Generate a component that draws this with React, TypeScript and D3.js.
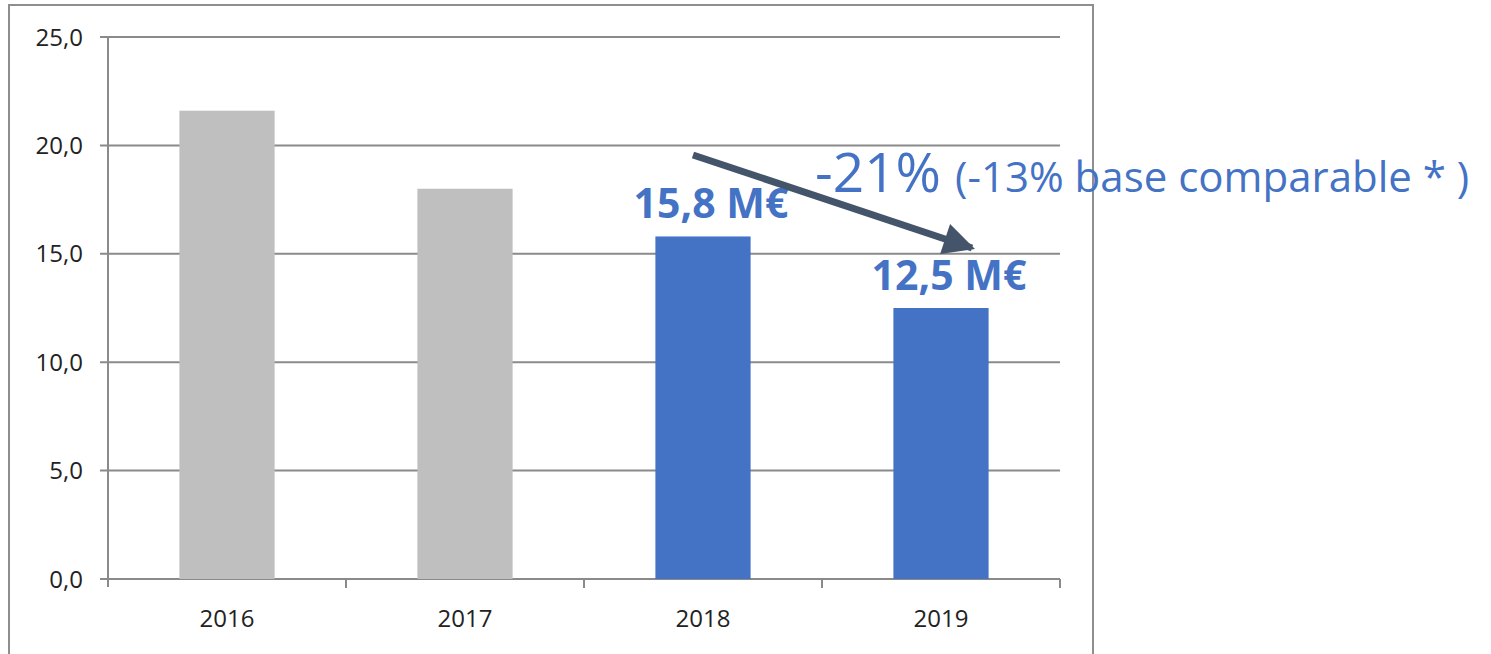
import React, { useEffect, useRef } from 'react';
import * as d3 from 'd3';

const years = ['2016', '2017', '2018', '2019'];
const values = [21.6, 18.0, 15.8, 12.5];
const highlighted = [false, false, true, true];
const yTicks = [0, 5, 10, 15, 20, 25];
const valueLabels = ['', '', '15,8 M€', '12,5 M€'];

const App = () => {
  const svgRef = useRef<SVGSVGElement>(null);

  useEffect(() => {
    const svg = d3.select(svgRef.current);
    svg.selectAll('*').remove();

    const left = 108, right = 1060, top = 37, bottom = 579;
    const font = 'Open Sans, sans-serif';

    // chart frame
    svg.append('rect')
      .attr('x', 9).attr('y', 5)
      .attr('width', 1084).attr('height', 670)
      .attr('fill', 'white')
      .attr('stroke', '#8e8e8e')
      .attr('stroke-width', 2);

    const x = d3.scaleBand()
      .domain(years)
      .range([left, right])
      .paddingInner(0.6)
      .paddingOuter(0.3);

    const y = d3.scaleLinear().domain([0, 25]).range([bottom, top]);

    // gridlines + y ticks
    svg.append('g')
      .selectAll('line')
      .data(yTicks)
      .enter()
      .append('line')
      .attr('x1', left - 8)
      .attr('x2', right)
      .attr('y1', d => y(d))
      .attr('y2', d => y(d))
      .attr('stroke', '#8a8a8a')
      .attr('stroke-width', 2);

    svg.append('g')
      .selectAll('text')
      .data(yTicks)
      .enter()
      .append('text')
      .attr('x', 83)
      .attr('y', d => y(d))
      .attr('dy', '0.36em')
      .attr('text-anchor', 'end')
      .style('font-family', font)
      .style('font-size', '24px')
      .style('fill', '#222')
      .text(d => d.toFixed(1).replace('.', ','));

    // axes
    svg.append('line')
      .attr('x1', left).attr('x2', left)
      .attr('y1', top).attr('y2', bottom + 8)
      .attr('stroke', '#8a8a8a').attr('stroke-width', 2);

    // category separators on the x axis
    svg.append('g')
      .selectAll('line')
      .data(years)
      .enter()
      .append('line')
      .attr('x1', (d, i) => left + x.step() * (i + 1))
      .attr('x2', (d, i) => left + x.step() * (i + 1))
      .attr('y1', bottom).attr('y2', bottom + 9)
      .attr('stroke', '#8a8a8a').attr('stroke-width', 2);

    svg.append('g')
      .selectAll('text')
      .data(years)
      .enter()
      .append('text')
      .attr('x', d => (x(d) as number) + x.bandwidth() / 2)
      .attr('y', 627)
      .attr('text-anchor', 'middle')
      .style('font-family', font)
      .style('font-size', '24px')
      .style('fill', '#222')
      .text(d => d);

    // bars
    svg.append('g')
      .selectAll('rect')
      .data(years)
      .enter()
      .append('rect')
      .attr('x', d => x(d) as number)
      .attr('y', (d, i) => y(values[i]))
      .attr('width', x.bandwidth())
      .attr('height', (d, i) => bottom - y(values[i]))
      .attr('fill', (d, i) => (highlighted[i] ? '#4472c4' : '#bfbfbf'));

    // value labels
    svg.append('g')
      .selectAll('text')
      .data(years)
      .enter()
      .append('text')
      .attr('x', d => (x(d) as number) + x.bandwidth() / 2 + 8)
      .attr('y', (d, i) => y(values[i]) - 18)
      .attr('text-anchor', 'middle')
      .style('font-family', font)
      .style('font-size', '41px')
      .style('font-weight', 'bold')
      .style('fill', '#4472c4')
      .text((d, i) => valueLabels[i]);

    // arrow
    const defs = svg.append('defs');
    defs.append('marker')
      .attr('id', 'arrowhead')
      .attr('viewBox', '0 0 10 10')
      .attr('refX', 9).attr('refY', 5)
      .attr('markerWidth', 5).attr('markerHeight', 4.5)
      .attr('markerUnits', 'strokeWidth')
      .attr('orient', 'auto')
      .append('path')
      .attr('d', 'M0,0 L10,5 L0,10 Z')
      .attr('fill', '#44546a');

    svg.append('line')
      .attr('x1', 693).attr('y1', 155)
      .attr('x2', 972).attr('y2', 248)
      .attr('stroke', '#44546a')
      .attr('stroke-width', 7)
      .attr('marker-end', 'url(#arrowhead)');

    // change annotation
    const note = svg.append('text')
      .attr('x', 815)
      .attr('y', 192)
      .style('font-family', font)
      .style('fill', '#4472c4');
    note.append('tspan').style('font-size', '55px').text('-21%');
    note.append('tspan').style('font-size', '42px').attr('dx', 14).text('(-13% base comparable * )');
  }, []);

  return (
    <svg
      ref={svgRef}
      width={1491}
      height={654}
      style={{ position: 'absolute', top: 0, left: 0, background: 'white' }}
    />
  );
};

export default App;
